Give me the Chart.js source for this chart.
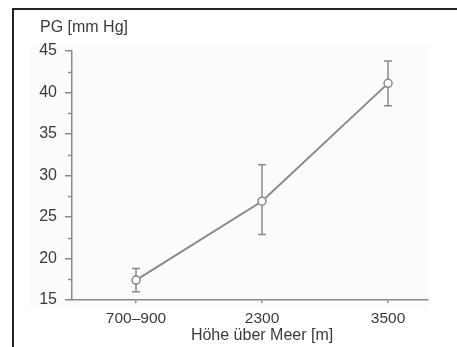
<!DOCTYPE html>
<html>
<head>
<meta charset="utf-8">
<script src="https://cdn.jsdelivr.net/npm/chart.js@4/dist/chart.umd.min.js"></script>
<style>
html,body{margin:0;padding:0;background:#fff;}
#wrap{position:relative;width:457px;height:347px;}
</style>
</head>
<body>
<div id="wrap"><canvas id="c" width="457" height="347"></canvas></div>
<script>
const categories = ['700–900', '2300', '3500'];
const means = [17.4, 26.9, 41.1];
const errUpper = [18.8, 31.3, 43.8];
const errLower = [16.0, 22.9, 38.4];
const yTicks = [15, 20, 25, 30, 35, 40, 45];
const yMinorTicks = [17.5, 22.5, 27.5, 32.5, 37.5, 42.5];
const yTitle = 'PG [mm Hg]';
const xTitle = 'Höhe über Meer [m]';

const FONT = "'Liberation Sans', Arial, Helvetica, sans-serif";
const AXIS = '#8a8a8a';
const TEXT = '#3a3a3a';

const decor = {
  id: 'decor',
  beforeDraw(chart) {
    const ctx = chart.ctx;
    ctx.save();
    ctx.fillStyle = '#fbfbfb';
    ctx.fillRect(30, 44, 399, 265);
    ctx.restore();
  },
  beforeDatasetsDraw(chart) {
    const ctx = chart.ctx, x = chart.scales.x, y = chart.scales.y;
    ctx.save();
    ctx.strokeStyle = AXIS;
    ctx.lineWidth = 1.5;
    yMinorTicks.forEach(v => {
      const py = Math.round(y.getPixelForValue(v)) + 0.5;
      ctx.beginPath();
      ctx.moveTo(x.left - 4, py);
      ctx.lineTo(x.left, py);
      ctx.stroke();
    });
    means.forEach((m, i) => {
      const px = x.getPixelForValue(i);
      const pu = y.getPixelForValue(errUpper[i]);
      const pl = y.getPixelForValue(errLower[i]);
      ctx.beginPath();
      ctx.moveTo(px, pu); ctx.lineTo(px, pl);
      ctx.moveTo(px - 4, pu); ctx.lineTo(px + 4, pu);
      ctx.moveTo(px - 4, pl); ctx.lineTo(px + 4, pl);
      ctx.stroke();
    });
    ctx.restore();
  },
  afterDraw(chart) {
    const ctx = chart.ctx, x = chart.scales.x;
    ctx.save();
    ctx.strokeStyle = '#222';
    ctx.lineWidth = 2;
    ctx.beginPath();
    ctx.moveTo(13, 347);
    ctx.lineTo(13, 9);
    ctx.lineTo(457, 9);
    ctx.stroke();
    ctx.fillStyle = TEXT;
    ctx.font = '16px ' + FONT;
    ctx.textBaseline = 'alphabetic';
    ctx.textAlign = 'left';
    ctx.fillText(yTitle, 40, 32);
    ctx.font = '16px ' + FONT;
    ctx.textAlign = 'center';
    ctx.fillText(xTitle, x.getPixelForValue(1), 340);
    ctx.restore();
  }
};

new Chart(document.getElementById('c'), {
  type: 'line',
  data: {
    datasets: [{
      data: means.map((m, i) => ({x: i, y: m})),
      borderColor: AXIS,
      borderWidth: 2,
      pointRadius: 4,
      pointBorderWidth: 1.5,
      pointBackgroundColor: '#fff',
      pointBorderColor: AXIS,
      tension: 0
    }]
  },
  options: {
    responsive: false,
    animation: false,
    events: [],
    layout: {padding: {left: 0, right: 29, top: 51, bottom: 0}},
    plugins: {legend: {display: false}, tooltip: {enabled: false}},
    scales: {
      x: {
        type: 'linear',
        min: -0.508,
        max: 2.317,
        afterBuildTicks: s => { s.ticks = categories.map((c, i) => ({value: i})); },
        afterFit: s => { s.height = 47; },
        ticks: {
          callback: v => categories[v],
          color: TEXT,
          font: {family: FONT, size: 15.5},
          padding: 6,
          maxRotation: 0,
          autoSkip: false
        },
        grid: {drawOnChartArea: false, tickLength: 3, color: AXIS, lineWidth: 1.5},
        border: {color: AXIS, width: 1.5}
      },
      y: {
        type: 'linear',
        min: 15,
        max: 45,
        afterBuildTicks: s => { s.ticks = yTicks.map(v => ({value: v})); },
        afterFit: s => { s.width = 72; },
        ticks: {
          color: TEXT,
          font: {family: FONT, size: 16},
          padding: 8
        },
        grid: {drawOnChartArea: false, tickLength: 7, color: AXIS, lineWidth: 1.5},
        border: {color: AXIS, width: 1.5}
      }
    }
  },
  plugins: [decor]
});
</script>
</body>
</html>
